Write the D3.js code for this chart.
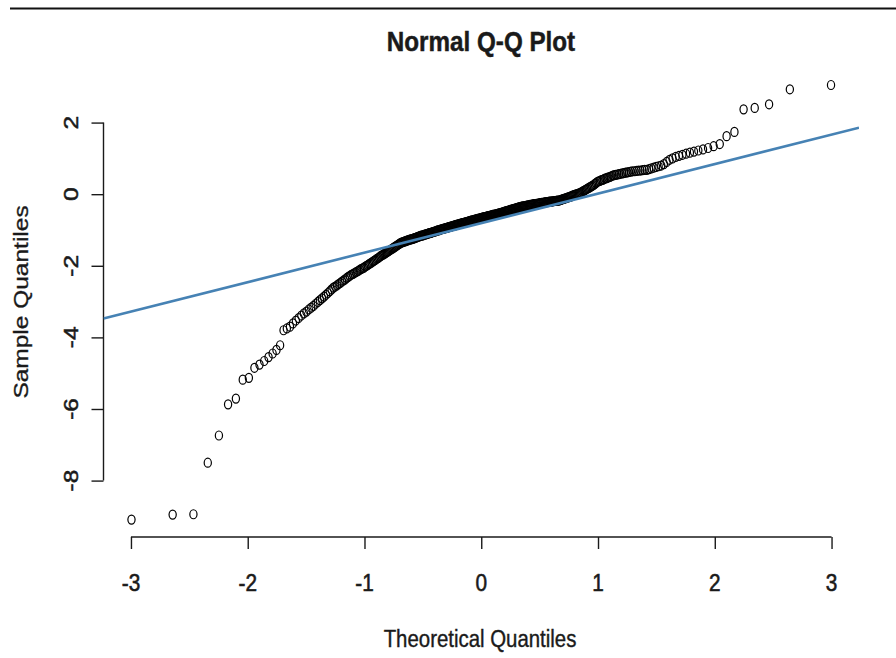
<!DOCTYPE html>
<html><head><meta charset="utf-8">
<script src="https://cdn.jsdelivr.net/npm/d3@7"></script>
<style>
html,body{margin:0;padding:0;background:#fff;}
svg{display:block;font-family:"Liberation Sans",Arial,Helvetica,sans-serif;}
</style>
</head><body>
<svg id="chart" width="896" height="658"></svg>
<script>
// ---- data ----
const sampleQuantiles = [
-9.09,-8.95,-8.94,-7.50,-6.74,-5.87,-5.71,-5.18,-5.13,-4.85,
-4.76,-4.66,-4.55,-4.45,-4.35,-4.22,-3.80,-3.75,-3.70,-3.61,
-3.53,-3.46,-3.39,-3.33,-3.28,-3.22,-3.17,-3.12,-3.06,-3.01,
-2.96,-2.91,-2.86,-2.81,-2.76,-2.71,-2.66,-2.61,-2.58,-2.55,
-2.51,-2.48,-2.44,-2.41,-2.38,-2.34,-2.31,-2.28,-2.25,-2.23,
-2.21,-2.18,-2.16,-2.14,-2.11,-2.09,-2.07,-2.05,-2.02,-2.00,
-1.98,-1.95,-1.93,-1.91,-1.88,-1.86,-1.84,-1.81,-1.79,-1.77,
-1.74,-1.72,-1.70,-1.68,-1.66,-1.64,-1.62,-1.60,-1.58,-1.56,
-1.54,-1.52,-1.50,-1.48,-1.46,-1.44,-1.42,-1.40,-1.38,-1.36,
-1.35,-1.34,-1.33,-1.32,-1.31,-1.30,-1.29,-1.28,-1.27,-1.26,
-1.26,-1.25,-1.24,-1.23,-1.22,-1.21,-1.20,-1.19,-1.18,-1.17,
-1.16,-1.16,-1.15,-1.14,-1.13,-1.12,-1.12,-1.11,-1.10,-1.09,
-1.09,-1.08,-1.07,-1.06,-1.05,-1.05,-1.04,-1.03,-1.02,-1.01,
-1.01,-1.00,-0.99,-0.98,-0.98,-0.97,-0.96,-0.96,-0.95,-0.94,
-0.94,-0.93,-0.92,-0.91,-0.91,-0.90,-0.89,-0.89,-0.88,-0.87,
-0.87,-0.86,-0.85,-0.85,-0.84,-0.83,-0.83,-0.82,-0.81,-0.81,
-0.80,-0.80,-0.79,-0.78,-0.78,-0.77,-0.76,-0.76,-0.75,-0.74,
-0.74,-0.73,-0.73,-0.72,-0.71,-0.71,-0.70,-0.69,-0.69,-0.68,
-0.68,-0.67,-0.66,-0.66,-0.65,-0.65,-0.64,-0.64,-0.63,-0.62,
-0.62,-0.61,-0.61,-0.60,-0.60,-0.59,-0.58,-0.58,-0.57,-0.57,
-0.56,-0.56,-0.55,-0.54,-0.54,-0.53,-0.53,-0.52,-0.51,-0.51,
-0.50,-0.49,-0.48,-0.48,-0.47,-0.46,-0.46,-0.45,-0.44,-0.43,
-0.43,-0.42,-0.41,-0.41,-0.40,-0.39,-0.38,-0.38,-0.37,-0.36,
-0.36,-0.35,-0.35,-0.34,-0.34,-0.33,-0.33,-0.32,-0.32,-0.31,
-0.31,-0.30,-0.30,-0.29,-0.29,-0.28,-0.28,-0.28,-0.27,-0.27,
-0.26,-0.26,-0.25,-0.25,-0.24,-0.24,-0.24,-0.23,-0.23,-0.22,
-0.22,-0.22,-0.21,-0.21,-0.21,-0.20,-0.20,-0.19,-0.19,-0.19,
-0.18,-0.18,-0.18,-0.17,-0.16,-0.15,-0.14,-0.13,-0.12,-0.11,
-0.10,-0.09,-0.08,-0.07,-0.06,-0.04,-0.03,-0.02,-0.01,0.00,
0.01,0.02,0.03,0.05,0.07,0.09,0.11,0.13,0.15,0.17,
0.19,0.21,0.23,0.25,0.28,0.31,0.34,0.36,0.37,0.39,
0.40,0.42,0.44,0.45,0.47,0.48,0.50,0.52,0.53,0.54,
0.55,0.56,0.57,0.58,0.59,0.60,0.61,0.62,0.63,0.64,
0.64,0.65,0.66,0.66,0.67,0.68,0.68,0.70,0.72,0.74,
0.76,0.78,0.80,0.84,0.90,0.96,1.00,1.04,1.07,1.10,
1.13,1.16,1.19,1.22,1.25,1.29,1.34,1.40,1.62,1.74,
2.37,2.41,2.51,2.93,3.05
];
const xTickValues = [-3, -2, -1, 0, 1, 2, 3];
const yTickValues = [-8, -6, -4, -2, 0, 2];
const qqLineParams = [-0.809, 0.824];   // intercept, slope
const chartTitle = "Normal Q-Q Plot";
const xAxisTitle = "Theoretical Quantiles";
const yAxisTitle = "Sample Quantiles";

// inverse standard normal CDF (Acklam)
function qnorm(p){
  const a=[-3.969683028665376e+01,2.209460984245205e+02,-2.759285104469687e+02,1.383577518672690e+02,-3.066479806614716e+01,2.506628277459239e+00];
  const b=[-5.447609879822406e+01,1.615858368580409e+02,-1.556989798598866e+02,6.680131188771972e+01,-1.328068155288572e+01];
  const c=[-7.784894002430293e-03,-3.223964580411365e-01,-2.400758277161838e+00,-2.549732539343734e+00,4.374664141464968e+00,2.938163982698783e+00];
  const d=[7.784695709041462e-03,3.224671290700398e-01,2.445134137142996e+00,3.754408661907416e+00];
  const pl=0.02425, ph=1-pl; let q,r;
  if(p<pl){q=Math.sqrt(-2*Math.log(p));return (((((c[0]*q+c[1])*q+c[2])*q+c[3])*q+c[4])*q+c[5])/((((d[0]*q+d[1])*q+d[2])*q+d[3])*q+1);}
  if(p>ph){q=Math.sqrt(-2*Math.log(1-p));return -(((((c[0]*q+c[1])*q+c[2])*q+c[3])*q+c[4])*q+c[5])/((((d[0]*q+d[1])*q+d[2])*q+d[3])*q+1);}
  q=p-0.5;r=q*q;
  return (((((a[0]*r+a[1])*r+a[2])*r+a[3])*r+a[4])*r+a[5])*q/(((((b[0]*r+b[1])*r+b[2])*r+b[3])*r+b[4])*r+1);
}

const n = sampleQuantiles.length;
const sorted = sampleQuantiles.slice().sort((a,b)=>a-b);
const points = sorted.map((v,i)=>({q:qnorm((i+0.5)/n), v}));

function padded(ext){const r=ext[1]-ext[0];return [ext[0]-0.04*r, ext[1]+0.04*r];}
const xDom = padded(d3.extent(points,d=>d.q));
const yDom = padded(d3.extent(points,d=>d.v));

const L=103.5, R=859, T=67.6, B=537;
const x = d3.scaleLinear().domain(xDom).range([L,R]);
const y = d3.scaleLinear().domain(yDom).range([B,T]);

const SX = 0.85; // horizontal squash of glyphs
const ink = "#1a1a1a";
const svg = d3.select("#chart");

function heavy(sel, w){ return sel.attr("stroke",ink).attr("stroke-width",w).attr("paint-order","stroke"); }

// top border line
svg.append("line").attr("x1",10).attr("x2",896).attr("y1",8.5).attr("y2",8.5)
  .attr("stroke","#111").attr("stroke-width",2);

// title
heavy(svg.append("text").attr("transform",`translate(481,51) scale(${SX},1)`)
  .attr("text-anchor","middle").attr("font-size",28.5).attr("font-weight","bold")
  .attr("fill",ink).text(chartTitle), 0.5);

// x axis
const gx = svg.append("g").attr("transform",`translate(0,${B})`)
  .call(d3.axisBottom(x).tickValues(xTickValues).tickSize(12).tickFormat(""));
gx.select(".domain").remove();
gx.selectAll(".tick line").attr("stroke",ink).attr("stroke-width",1.4);
gx.append("line").attr("x1",x(xTickValues[0])).attr("x2",x(xTickValues[xTickValues.length-1]))
  .attr("stroke",ink).attr("stroke-width",1.4);
heavy(svg.selectAll("text.xt").data(xTickValues).join("text").attr("class","xt")
  .attr("transform",d=>`translate(${x(d)},591) scale(${SX},1)`)
  .attr("text-anchor","middle").attr("font-size",24.5).attr("fill",ink).text(d=>d), 0.6);

// y axis
const gy = svg.append("g").attr("transform",`translate(${L},0)`)
  .call(d3.axisLeft(y).tickValues(yTickValues).tickSize(12).tickFormat(""));
gy.select(".domain").remove();
gy.selectAll(".tick line").attr("stroke",ink).attr("stroke-width",1.4);
gy.append("line").attr("y1",y(yTickValues[0])).attr("y2",y(yTickValues[yTickValues.length-1]))
  .attr("stroke",ink).attr("stroke-width",1.4);
heavy(svg.selectAll("text.yt").data(yTickValues).join("text").attr("class","yt")
  .attr("transform",d=>`translate(78,${y(d)}) scale(${SX},1) rotate(-90)`)
  .attr("text-anchor","middle").attr("font-size",24.5).attr("fill",ink).text(d=>d), 0.6);

// axis titles
heavy(svg.append("text").attr("transform",`translate(480,647) scale(${SX},1)`)
  .attr("text-anchor","middle").attr("font-size",24).attr("fill",ink).text(xAxisTitle), 0.4);
heavy(svg.append("text").attr("transform",`translate(28,302) scale(${SX},1) rotate(-90)`)
  .attr("text-anchor","middle").attr("font-size",24.5).attr("fill",ink).text(yAxisTitle), 0.4);

// clip for plot region
svg.append("clipPath").attr("id","plotclip").append("rect")
  .attr("x",L).attr("y",T).attr("width",R-L).attr("height",B-T);

// points
svg.append("g").selectAll("ellipse").data(points).join("ellipse")
  .attr("cx",d=>x(d.q)).attr("cy",d=>y(d.v)).attr("rx",3.6).attr("ry",4.5)
  .attr("fill","none").attr("stroke","#000").attr("stroke-width",1.2);

// qq line
const lineData = xDom.map(q=>({q, v: qqLineParams[0] + qqLineParams[1]*q}));
svg.append("path").datum(lineData).attr("clip-path","url(#plotclip)")
  .attr("d", d3.line().x(d=>x(d.q)).y(d=>y(d.v)))
  .attr("fill","none").attr("stroke","#4682b4").attr("stroke-width",2.6);
</script>
</body></html>
